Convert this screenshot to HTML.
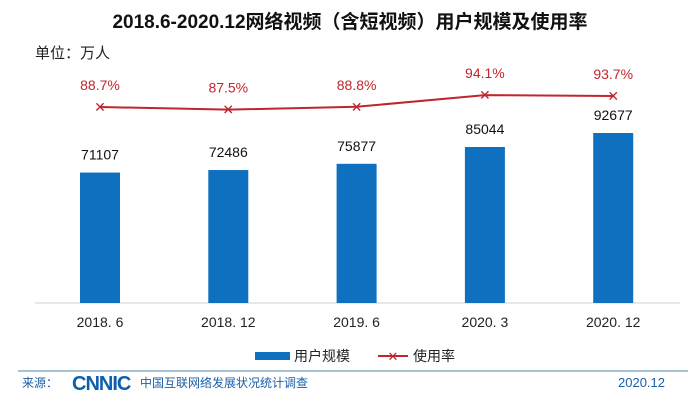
<!DOCTYPE html>
<html><head><meta charset="utf-8"><style>
body{margin:0;background:#fff;}
svg{display:block;font-family:"Liberation Sans","Noto Sans CJK SC",sans-serif;}
</style></head><body>
<svg width="700" height="415" viewBox="0 0 700 415">
<text x="350" y="28" text-anchor="middle" font-size="19" font-weight="bold" fill="#111">2018.6-2020.12网络视频（含短视频）用户规模及使用率</text>
<text x="35" y="58" font-size="15" fill="#222">单位：万人</text>
<line x1="35" y1="303" x2="680" y2="303" stroke="#d0d0d0" stroke-width="1"/>
<g id="bars"></g><g id="line"></g><g id="labels"></g>
<rect x="255" y="352" width="35" height="8" fill="#0f70c0"/>
<text x="294" y="361" font-size="14" fill="#222">用户规模</text>
<line x1="378" y1="356" x2="408" y2="356" stroke="#c0262d" stroke-width="2"/>
<text x="393" y="361" text-anchor="middle" font-size="13" fill="#c0262d">✕</text>
<text x="413" y="361" font-size="14" fill="#222">使用率</text>
<line x1="18" y1="371" x2="688" y2="371" stroke="#8ab0c8" stroke-width="1.5"/>
<text x="22" y="387" font-size="12" fill="#1a5fa8">来源：</text>
<text x="72" y="390" font-size="20" font-weight="bold" fill="#0d5fae" letter-spacing="-1">CNNIC</text>
<text x="140" y="387" font-size="12" fill="#1a5fa8">中国互联网络发展状况统计调查</text>
<text x="665" y="387" text-anchor="end" font-size="13" fill="#1a5fa8">2020.12</text>
</svg>
<script>
const categories=["2018. 6","2018. 12","2019. 6","2020. 3","2020. 12"];
const users=[71107,72486,75877,85044,92677];
const rates=[88.7,87.5,88.8,94.1,93.7];
const NS="http://www.w3.org/2000/svg";
const xPos=i=>100+i*128.3;
const yBar=v=>303-v*170/92677;
const yRate=v=>107-(v-88.7)*2.2;
function mk(tag,attrs,parent){const e=document.createElementNS(NS,tag);for(const k in attrs)e.setAttribute(k,attrs[k]);document.getElementById(parent).appendChild(e);return e;}
let pts=[];
categories.forEach((c,i)=>{
 const x=xPos(i),y=yBar(users[i]);
 const b=mk("rect",{x:x-20,y:y,width:40,height:303-y,fill:"#0f70c0"},"bars");
 
 
 const t=mk("text",{x:x,y:y-13,"text-anchor":"middle","font-size":"14",fill:"#111"},"labels");t.textContent=users[i];
 
 
 const xl=mk("text",{x:x,y:327,"text-anchor":"middle","font-size":"14",fill:"#222"},"labels");xl.textContent=c;
 
 
 const ry=yRate(rates[i]);pts.push(x+","+ry);
 const m=mk("text",{x:x,y:ry+5,"text-anchor":"middle","font-size":"14",fill:"#c0262d"},"labels");m.textContent="✕";
 
 
 const rl=mk("text",{x:x,y:ry-17,"text-anchor":"middle","font-size":"14",fill:"#c0262d"},"labels");rl.textContent=rates[i].toFixed(1)+"%";
 
 
});
const pl=mk("polyline",{points:pts.join(" "),fill:"none",stroke:"#c0262d","stroke-width":"2"},"line");


</script>
</body></html>
